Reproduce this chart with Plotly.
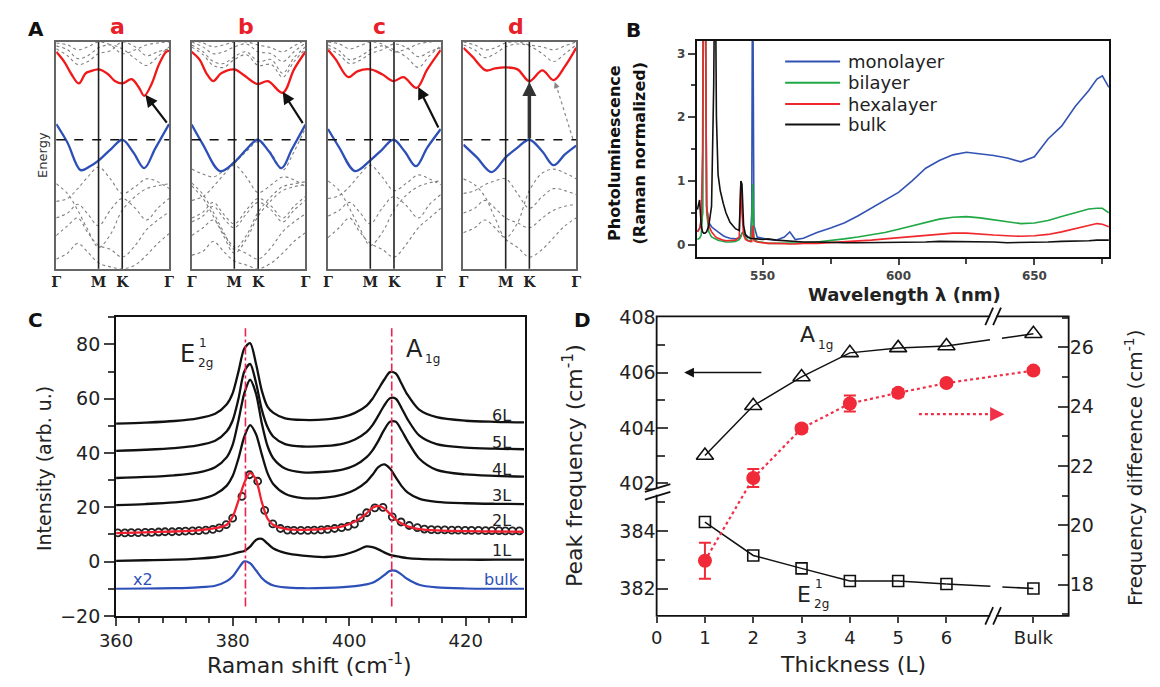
import plotly.graph_objects as go

W, H = 1160, 687
SANS = "DejaVu Sans"
SERIF = "DejaVu Serif"

# ================= DATA =================
# ---- Panel A : band structures (k path Γ-M-K-Γ, energy relative to VBM) ----
k_grid = [0, 0.1, 0.19, 0.28, 0.375, 0.48, 0.585, 0.7, 0.8, 0.9, 1.0]
k_ticks = [0, 0.375, 0.585, 1.0]
k_labels = ["Γ", "M", "K", "Γ"]
band_panels = ["a", "b", "c", "d"]

gray_a = [
    [0.96, 0.92, 0.83, 0.86, 0.94, 0.97, 0.93, 0.83, 0.76, 0.85, 0.95],
    [0.93, 0.86, 0.77, 0.80, 0.88, 0.91, 1.00, 0.95, 0.86, 0.90, 0.93],
    [0.99, 0.97, 0.92, 0.95, 1.00, 0.97, 0.88, 0.92, 0.97, 0.99, 1.00],
    [-0.45, -0.55, -0.72, -0.92, -1.10, -0.97, -0.72, -0.58, -0.50, -0.47, -0.45],
    [-0.63, -0.60, -0.50, -0.38, -0.28, -0.40, -0.55, -0.48, -0.40, -0.43, -0.50],
    [-0.80, -0.75, -0.66, -0.76, -0.88, -0.72, -0.60, -0.70, -0.82, -0.70, -0.60],
    [-0.98, -0.88, -0.80, -0.95, -1.08, -1.12, -1.20, -1.08, -0.92, -0.82, -0.74],
    [-1.22, -1.16, -1.06, -1.15, -1.26, -1.30, -1.32, -1.28, -1.18, -1.06, -0.96],
]
gray_b = [
    [0.97, 0.90, 0.80, 0.78, 0.85, 0.90, 0.80, 0.82, 0.68, 0.84, 0.95],
    [0.95, 0.87, 0.76, 0.74, 0.82, 0.87, 0.76, 0.77, 0.64, 0.80, 0.93],
    [1.00, 0.95, 0.88, 0.90, 0.95, 0.98, 0.90, 0.88, 0.80, 0.90, 0.99],
    [1.02, 0.99, 0.95, 0.97, 1.00, 1.00, 0.97, 0.94, 0.90, 0.96, 1.02],
    [-0.30, -0.35, -0.38, -0.32, -0.24, -0.12, -0.02, -0.14, -0.31, -0.12, 0.12],
    [-0.44, -0.56, -0.74, -0.94, -1.12, -0.98, -0.74, -0.58, -0.48, -0.45, -0.43],
    [-0.47, -0.60, -0.78, -0.98, -1.16, -1.02, -0.78, -0.62, -0.52, -0.48, -0.46],
    [-0.62, -0.58, -0.48, -0.36, -0.26, -0.38, -0.54, -0.46, -0.38, -0.41, -0.48],
    [-0.80, -0.74, -0.64, -0.76, -0.86, -0.72, -0.60, -0.68, -0.80, -0.68, -0.58],
    [-0.84, -0.78, -0.68, -0.80, -0.90, -0.76, -0.64, -0.72, -0.84, -0.72, -0.62],
    [-0.98, -0.90, -0.82, -0.96, -1.10, -1.16, -1.22, -1.10, -0.94, -0.84, -0.76],
    [-1.18, -1.14, -1.04, -1.14, -1.24, -1.28, -1.32, -1.26, -1.16, -1.04, -0.95],
]
gray_c = [
    [0.97, 0.91, 0.82, 0.85, 0.92, 0.96, 0.92, 0.84, 0.74, 0.86, 0.96],
    [0.94, 0.87, 0.78, 0.81, 0.88, 0.92, 0.98, 0.94, 0.85, 0.90, 0.94],
    [1.00, 0.98, 0.93, 0.96, 1.00, 0.98, 0.90, 0.93, 0.98, 1.00, 1.01],
    [-0.42, -0.52, -0.70, -0.90, -1.08, -0.95, -0.72, -0.56, -0.48, -0.44, -0.42],
    [-0.60, -0.57, -0.48, -0.36, -0.26, -0.38, -0.52, -0.44, -0.36, -0.40, -0.46],
    [-0.78, -0.72, -0.64, -0.74, -0.86, -0.70, -0.58, -0.68, -0.80, -0.66, -0.56],
    [-1.00, -0.90, -0.80, -0.94, -1.06, -1.12, -1.20, -1.06, -0.90, -0.80, -0.70],
]
gray_d = [
    [0.97, 0.92, 0.84, 0.88, 0.95, 0.98, 0.96, 0.88, 0.80, 0.88, 0.97],
    [1.00, 0.97, 0.92, 0.94, 0.99, 1.00, 0.97, 0.95, 0.92, 0.96, 1.00],
    [-0.40, -0.46, -0.58, -0.80, -1.00, -0.85, -0.52, -0.34, -0.30, -0.34, -0.40],
    [-0.55, -0.52, -0.46, -0.42, -0.40, -0.55, -0.70, -0.58, -0.50, -0.52, -0.56],
    [-0.75, -0.70, -0.62, -0.70, -0.80, -0.85, -0.90, -0.80, -0.72, -0.68, -0.66],
    [-0.95, -0.90, -0.82, -0.90, -1.02, -1.10, -1.20, -1.12, -1.00, -0.88, -0.80],
]

cb_a_k = [0, 0.07, 0.135, 0.2, 0.26, 0.3, 0.377, 0.46, 0.52, 0.587, 0.668, 0.73, 0.78, 0.845, 0.91, 0.974, 1.0]
cb_a_E = [0.90, 0.80, 0.67, 0.576, 0.68, 0.70, 0.72, 0.67, 0.60, 0.576, 0.62, 0.54, 0.45, 0.57, 0.77, 0.90, 0.91]
vb_a_k = [0, 0.1, 0.216, 0.3, 0.377, 0.49, 0.587, 0.684, 0.78, 0.877, 1.0]
vb_a_E = [0.16, -0.03, -0.31, -0.27, -0.21, -0.09, 0.0, -0.13, -0.29, -0.09, 0.16]

cb_b_k = [0, 0.07, 0.13, 0.19, 0.26, 0.375, 0.46, 0.58, 0.67, 0.8, 0.9, 1.0]
cb_b_E = [0.90, 0.82, 0.68, 0.60, 0.68, 0.72, 0.66, 0.57, 0.60, 0.48, 0.72, 0.90]
vb_b_k = [0, 0.1, 0.25, 0.375, 0.48, 0.58, 0.68, 0.79, 0.88, 1.0]
vb_b_E = [0.155, -0.05, -0.32, -0.23, -0.10, 0.0, -0.12, -0.29, -0.10, 0.155]

cb_c_k = [0, 0.07, 0.18, 0.26, 0.375, 0.48, 0.58, 0.67, 0.785, 0.88, 1.0]
cb_c_E = [0.92, 0.82, 0.64, 0.70, 0.72, 0.67, 0.60, 0.64, 0.53, 0.72, 0.92]
vb_c_k = [0, 0.1, 0.24, 0.375, 0.48, 0.58, 0.68, 0.78, 0.88, 1.0]
vb_c_E = [0.11, -0.08, -0.32, -0.21, -0.10, 0.0, -0.12, -0.27, -0.08, 0.11]

cb_d_k = [0, 0.08, 0.2, 0.28, 0.375, 0.48, 0.585, 0.7, 0.8, 0.9, 1.0]
cb_d_E = [0.94, 0.85, 0.71, 0.73, 0.74, 0.72, 0.60, 0.71, 0.61, 0.75, 0.94]
vb_d_k = [0, 0.12, 0.25, 0.375, 0.48, 0.585, 0.7, 0.8, 0.9, 1.0]
vb_d_E = [-0.05, -0.18, -0.33, -0.18, -0.08, 0.0, -0.12, -0.26, -0.15, -0.06]

# transitions: [k_from, E_from, k_to, E_to]
trans_a = [0.99, 0.16, 0.79, 0.46]
trans_b = [0.985, 0.155, 0.80, 0.49]
trans_c = [0.985, 0.11, 0.80, 0.54]
trans_d_direct = [0.585, 0.0, 0.585, 0.59]
trans_d_indirect = [0.97, 0.01, 0.81, 0.59]

# ---- Panel B : photoluminescence ----
wl = [526.0, 526.8, 527.4, 527.9, 528.3, 528.8, 529.4, 530.2, 531.2, 532.0, 532.5, 533.0,
      533.6, 534.4, 535.5, 536.5, 538.0, 540.0, 541.4, 542.0, 542.4, 543.0, 543.7, 544.5,
      545.5, 546.0, 546.3, 546.8, 548.0, 550.0, 552.0, 555.0, 558.0, 560.0, 562.0, 565.0,
      570.0, 575.0, 580.0, 585.0, 590.0, 595.0, 600.0, 605.0, 610.0, 615.0, 620.0, 625.0,
      630.0, 635.0, 640.0, 645.0, 650.0, 655.0, 660.0, 665.0, 670.0, 673.0, 675.0, 677.4]
pl_mono = [0.2, 0.25, 0.3, 0.5, 5, 5, 0.6, 0.35, 0.28, 0.25, 0.24, 0.22, 0.2, 0.17, 0.14,
           0.12, 0.1, 0.09, 0.1, 0.14, 0.18, 0.2, 0.16, 0.12, 0.1, 0.5, 5, 0.3, 0.12, 0.1,
           0.08, 0.07, 0.12, 0.2, 0.08, 0.1, 0.19, 0.26, 0.34, 0.45, 0.57, 0.7, 0.82, 1.0,
           1.2, 1.32, 1.41, 1.45, 1.43, 1.4, 1.36, 1.3, 1.38, 1.66, 1.86, 2.17, 2.42, 2.6,
           2.65, 2.47]
pl_bi = [0.08, 0.1, 0.15, 0.5, 5, 5, 0.5, 0.2, 0.12, 0.1, 0.09, 0.08, 0.07, 0.06, 0.05,
         0.04, 0.04, 0.05, 0.08, 0.12, 0.18, 0.2, 0.12, 0.07, 0.05, 0.3, 0.95, 0.1, 0.05,
         0.03, 0.02, 0.02, 0.02, 0.02, 0.02, 0.03, 0.04, 0.06, 0.09, 0.12, 0.15, 0.19,
         0.24, 0.29, 0.35, 0.4, 0.43, 0.44, 0.42, 0.39, 0.36, 0.33, 0.34, 0.38, 0.44, 0.5,
         0.56, 0.57, 0.57, 0.5]
pl_hexa = [0.2, 0.25, 0.4, 1.5, 5, 5, 0.6, 0.3, 0.2, 0.15, 0.13, 0.11, 0.1, 0.08, 0.07,
           0.06, 0.06, 0.07, 0.12, 1.0, 0.5, 0.15, 0.08, 0.06, 0.05, 0.05, 0.3, 0.06, 0.04,
           0.03, 0.02, 0.02, 0.01, 0.01, 0.01, 0.02, 0.02, 0.03, 0.04, 0.05, 0.07, 0.09,
           0.11, 0.13, 0.15, 0.17, 0.18, 0.18, 0.16, 0.15, 0.14, 0.13, 0.14, 0.16, 0.2,
           0.25, 0.3, 0.33, 0.32, 0.28]
pl_bulk = [0.55, 0.7, 0.3, 0.2, 0.18, 0.18, 0.2, 0.3, 0.6, 2.5, 5, 2.0, 1.1, 0.85, 0.65,
           0.5, 0.35, 0.25, 0.22, 1.0, 0.95, 0.3, 0.15, 0.12, 0.1, 0.1, 0.1, 0.1, 0.09,
           0.08, 0.09, 0.07, 0.06, 0.05, 0.05, 0.04, 0.04, 0.03, 0.03, 0.03, 0.03, 0.03,
           0.03, 0.03, 0.04, 0.05, 0.05, 0.05, 0.04, 0.04, 0.03, 0.03, 0.04, 0.04, 0.05,
           0.05, 0.06, 0.07, 0.07, 0.07]
pl_names = ["monolayer", "bilayer", "hexalayer", "bulk"]
pl_colors = ["#3353b3", "#1fa845", "#f0282d", "#111111"]

# ---- Panel C : Raman spectra ----
ram_x = [360, 365, 370, 374, 377, 379, 380, 381, 382, 383, 384, 385, 386, 387, 389, 392,
         396, 399, 401, 403, 404, 405, 406, 407, 408, 409, 410, 412, 415, 420, 425, 430]
ram_6L = [50.8, 51.2, 51.8, 52.8, 54.5, 58, 62, 70, 78.5, 80.5, 73, 63, 57, 54.8, 52.8, 52.2,
          52.4, 53.3, 54.8, 57.5, 60, 63.5, 67, 69.8, 69.3, 65.5, 61.5, 56, 53.2, 51.9, 51.5, 51.3]
ram_5L = [40.8, 41.2, 41.8, 42.8, 44.5, 48, 52, 60, 70, 72.8, 66, 56, 49.5, 46, 43.3, 42.4,
          42.6, 43.5, 45, 47.8, 50.3, 53.8, 57.5, 60.2, 60, 56.5, 52.5, 46.5, 43.3, 42, 41.6, 41.4]
ram_4L = [30.8, 31.2, 31.8, 32.8, 34.8, 38.5, 43, 52, 62, 67, 62, 51, 42.5, 38, 34.3, 32.9,
          33.1, 34, 35.5, 38.5, 41, 44.5, 48.5, 51.5, 51.5, 48.3, 44.5, 38, 33.8, 32.1, 31.6, 31.3]
ram_3L = [20.8, 21.2, 21.8, 22.8, 24.8, 28, 31.5, 38, 46, 50.3, 47, 39.5, 32.5, 28.5, 25, 23.4,
          23.6, 24.8, 26.5, 29.5, 32, 34.8, 35.8, 34.3, 31, 27.8, 25.5, 23.2, 22, 21.5, 21.3, 21.2]
ram_2L_fit = [10.5, 10.8, 11.1, 11.5, 12.3, 13.6, 16.5, 22.5, 29, 32.7, 30.2, 22, 15.8, 13.5, 12.1,
              11.7, 12.1, 13.1, 14.8, 17.8, 19.8, 20.5, 19.6, 17.6, 15.5, 14, 13, 12, 11.5, 11.2, 11.1, 11.0]
ram_1L = [0.3, 0.5, 0.7, 1.1, 1.6, 2.3, 2.8, 3.4, 3.9, 5.5, 8.0, 8.4, 6.6, 4.8, 3.2, 2.2,
          1.7, 2.5, 3.8, 5.6, 5.3, 4.5, 3.4, 2.5, 2.0, 1.6, 1.3, 1.0, 0.8, 0.7, 0.7, 0.7]
ram_bulk = [-10, -9.9, -9.8, -9.5, -8.9, -7.2, -5.5, -2.5, 0.1, -0.6, -3.2, -6.0, -7.8, -8.8, -9.5, -9.8,
            -9.7, -9.4, -9.0, -8.4, -7.8, -6.6, -5.0, -3.4, -3.4, -4.8, -6.4, -8.5, -9.5, -9.9, -10, -10]
circ_x = [360.3, 361.5, 362.6, 363.8, 365.0, 366.1, 367.3, 368.4, 369.6, 370.8, 371.9, 373.1,
          374.2, 375.4, 376.6, 377.7, 378.9, 380.0, 381.6, 382.9, 384.3, 385.5, 386.9, 388.2,
          389.4, 390.5, 391.7, 392.9, 394.0, 395.2, 396.3, 397.5, 398.7, 399.8, 400.9, 401.9,
          403.0, 404.4, 405.8, 407.4, 408.9, 410.3, 411.7, 412.9, 414.1, 415.2, 416.4, 417.6,
          418.7, 419.9, 421.0, 422.2, 423.4, 424.5, 425.7, 426.8, 428.0, 429.2]
circ_y = [10.6, 10.6, 10.7, 10.7, 10.8, 10.8, 10.9, 11.0, 11.0, 11.1, 11.2, 11.3,
          11.4, 11.6, 11.9, 12.4, 13.6, 16.0, 24.0, 32.0, 29.6, 18.9, 13.9, 12.2,
          11.6, 11.5, 11.5, 11.5, 11.6, 11.7, 11.9, 12.2, 12.5, 13.0, 13.8, 16.1,
          18.0, 19.8, 20.0, 16.5, 14.6, 13.3, 12.5, 12.0, 11.8, 11.7, 11.7, 11.6,
          11.6, 11.5, 11.5, 11.5, 11.4, 11.4, 11.4, 11.3, 11.3, 11.3]
ram_E2g_pos = 382.2
ram_A1g_pos = 407.3

# ---- Panel D : peak frequency vs thickness ----
thick_x = [1, 2, 3, 4, 5, 6, 7.8]
thick_labels = ["0", "1", "2", "3", "4", "5", "6", "Bulk"]
thick_tickvals = [0, 1, 2, 3, 4, 5, 6, 7.8]
freq_A1g = [403.0, 404.8, 405.84, 406.71, 406.89, 406.96, 407.4]
freq_E2g = [384.31, 383.15, 382.7, 382.26, 382.26, 382.16, 382.0]
freq_diff = [18.81, 21.6, 23.27, 24.11, 24.47, 24.8, 25.22]
freq_diff_err = [0.61, 0.3, 0.12, 0.27, 0.12, 0.08, 0.1]

# ================= HELPERS =================
def dom_x(a, b):
    return [a / W, b / W]

def dom_y(top, bot):
    return [1 - bot / H, 1 - top / H]

def fx(p):
    return p / W

def fy(p):
    return 1 - p / H

annotations = []
shapes = []

def txt(x, y, s, size, color="#111", family=SANS, angle=0, xanchor="center", yanchor="middle"):
    annotations.append(dict(x=fx(x), y=fy(y), xref="paper", yref="paper", text=s,
                            showarrow=False, textangle=angle, xanchor=xanchor, yanchor=yanchor,
                            font=dict(family=family, size=size, color=color)))

fig = go.Figure()
layout = dict(width=W, height=H, margin=dict(l=0, r=0, t=0, b=0),
              paper_bgcolor="white", plot_bgcolor="rgba(0,0,0,0)", showlegend=False,
              font=dict(family=SANS, color="#111"))

# ================= PANEL A =================
A_x = [(40, 155), (178, 294), (317, 432), (455, 570)]
A_top, A_bot = 33, 267
gray_sets = [gray_a, gray_b, gray_c, gray_d]
cb_sets = [(cb_a_k, cb_a_E), (cb_b_k, cb_b_E), (cb_c_k, cb_c_E), (cb_d_k, cb_d_E)]
vb_sets = [(vb_a_k, vb_a_E), (vb_b_k, vb_b_E), (vb_c_k, vb_c_E), (vb_d_k, vb_d_E)]
letter_x = [102, 233, 369, 509]

for i in range(4):
    n = i + 1
    xa = "x" if n == 1 else f"x{n}"
    ya = "y" if n == 1 else f"y{n}"
    xkey = "xaxis" if n == 1 else f"xaxis{n}"
    ykey = "yaxis" if n == 1 else f"yaxis{n}"
    layout[xkey] = dict(domain=dom_x(*A_x[i]), range=[0, 1], anchor=ya, showgrid=False,
                        zeroline=False, showline=True, mirror=True, linecolor="#666",
                        linewidth=1.5, tickvals=k_ticks, ticktext=k_labels, ticks="",
                        ticklabelstandoff=0,
                        tickfont=dict(family=SERIF, size=14, color="#222", weight="bold"))
    layout[ykey] = dict(domain=dom_y(A_top, A_bot), range=[-1.32, 1.0], anchor=xa,
                        showgrid=False, zeroline=False, showline=True, mirror=True,
                        linecolor="#666", linewidth=1.5, showticklabels=False, ticks="")
    for band in gray_sets[i]:
        fig.add_trace(go.Scatter(x=k_grid, y=band, xaxis=xa, yaxis=ya, mode="lines",
                                 line=dict(color="#808080", width=1.1, dash="dot", shape="spline"),
                                 hoverinfo="skip"))
    fig.add_trace(go.Scatter(x=cb_sets[i][0], y=cb_sets[i][1], xaxis=xa, yaxis=ya, mode="lines",
                             line=dict(color="#f01818", width=2.3, shape="spline", smoothing=1.0)))
    fig.add_trace(go.Scatter(x=vb_sets[i][0], y=vb_sets[i][1], xaxis=xa, yaxis=ya, mode="lines",
                             line=dict(color="#2d4fb8", width=2.3, shape="spline", smoothing=1.0)))
    for kv in k_ticks[1:3]:
        shapes.append(dict(type="line", xref=xa, yref=f"{ya} domain", x0=kv, x1=kv, y0=0, y1=1,
                           line=dict(color="#222", width=1.6)))
    shapes.append(dict(type="line", xref=f"{xa} domain", yref=ya, x0=0, x1=1, y0=0, y1=0,
                       line=dict(color="#111", width=1.3, dash="dash")))
    txt(letter_x[i], 17, f"<b>{band_panels[i]}</b>", 22, color="#e8202a")

for n, tr in zip([1, 2, 3], [trans_a, trans_b, trans_c]):
    xa = "x" if n == 1 else f"x{n}"
    ya = "y" if n == 1 else f"y{n}"
    annotations.append(dict(x=tr[2], y=tr[3], ax=tr[0], ay=tr[1], xref=xa, yref=ya,
                            axref=xa, ayref=ya, text="", showarrow=True, arrowhead=2,
                            arrowsize=1.1, arrowwidth=2.2, arrowcolor="#111"))
annotations.append(dict(x=trans_d_direct[2], y=trans_d_direct[3], ax=trans_d_direct[0],
                        ay=trans_d_direct[1], xref="x4", yref="y4", axref="x4", ayref="y4",
                        text="", showarrow=True, arrowhead=2, arrowsize=0.8, arrowwidth=3.5,
                        arrowcolor="#333"))
shapes.append(dict(type="line", xref="x4", yref="y4", x0=trans_d_indirect[0], y0=trans_d_indirect[1],
                   x1=trans_d_indirect[2] + 0.02, y1=trans_d_indirect[3] - 0.06,
                   line=dict(color="#888", width=1.2, dash="dot")))
annotations.append(dict(x=trans_d_indirect[2], y=trans_d_indirect[3],
                        ax=trans_d_indirect[2] + 0.025, ay=trans_d_indirect[3] - 0.08,
                        xref="x4", yref="y4", axref="x4", ayref="y4", text="", showarrow=True,
                        arrowhead=2, arrowsize=1, arrowwidth=1.2, arrowcolor="#888"))
txt(19, 20, "<b>A</b>", 20)
txt(26, 150, "Energy", 13, color="#333", angle=-90)

# ================= PANEL B =================
B_x0, B_x1, B_top, B_bot = 693, 1113, 32, 255
layout["xaxis5"] = dict(domain=dom_x(B_x0, B_x1), range=[525.8, 677.4], anchor="y5",
                        showgrid=False, zeroline=False, showline=True, mirror=True,
                        linecolor="#111", linewidth=2, ticks="outside", ticklen=6, tickwidth=1.5,
                        tickvals=[550, 600, 650], ticktext=["550", "600", "650"],
                        tickfont=dict(family=SANS, size=12, color="#444", weight="bold"),
                        minor=dict(tickvals=[575, 625, 675], ticks="outside", ticklen=5, tickwidth=1.5))
layout["yaxis5"] = dict(domain=dom_y(B_top, B_bot), range=[-0.198, 3.198], anchor="x5",
                        showgrid=False, zeroline=False, showline=True, mirror=True,
                        linecolor="#111", linewidth=2, ticks="outside", ticklen=7, tickwidth=1.5,
                        tickvals=[0, 1, 2, 3], ticktext=["0", "1", "2", "3"],
                        tickfont=dict(family=SANS, size=12, color="#444", weight="bold"),
                        minor=dict(dtick=0.5, tick0=0, ticks="outside", ticklen=4, tickwidth=1.5))
for ys, c in zip([pl_mono, pl_bi, pl_hexa, pl_bulk], pl_colors):
    fig.add_trace(go.Scatter(x=wl, y=ys, xaxis="x5", yaxis="y5", mode="lines",
                             line=dict(color=c, width=1.6)))
leg_y = [53, 75, 97, 118]
for name, c, yy in zip(pl_names, pl_colors, leg_y):
    shapes.append(dict(type="line", xref="paper", yref="paper", x0=fx(783), x1=fx(839),
                       y0=fy(yy), y1=fy(yy), line=dict(color=c, width=2)))
    txt(845, yy, name, 18, color="#222", xanchor="left")
txt(628, 21, "<b>B</b>", 20)
txt(609, 147, "<b>Photoluminescence</b>", 16, angle=-90)
txt(635, 147, "<b>(Raman normalized)</b>", 16, angle=-90)
txt(905, 293, "<b>Wavelength λ (nm)</b>", 18, color="#222")

# ================= PANEL C =================
C_x0, C_x1, C_top, C_bot = 101, 518, 317, 625
layout["xaxis6"] = dict(domain=dom_x(C_x0, C_x1), range=[360, 430.2], anchor="y6",
                        showgrid=False, zeroline=False, showline=True, mirror=True,
                        linecolor="#111", linewidth=2, ticks="outside", ticklen=8, tickwidth=2,
                        dtick=20, tick0=360, tickfont=dict(family=SANS, size=18, color="#222"),
                        minor=dict(dtick=4, tick0=360, ticks="outside", ticklen=5, tickwidth=2))
layout["yaxis6"] = dict(domain=dom_y(C_top, C_bot), range=[-20, 90], anchor="x6",
                        showgrid=False, zeroline=False, showline=True, mirror=True,
                        linecolor="#111", linewidth=2, ticks="outside", ticklen=10, tickwidth=2,
                        dtick=20, tick0=-20, tickfont=dict(family=SANS, size=19, color="#222"),
                        minor=dict(dtick=10, tick0=-20, ticks="outside", ticklen=6, tickwidth=2))
for xpos in [ram_E2g_pos, ram_A1g_pos]:
    shapes.append(dict(type="line", xref="x6", yref="y6", x0=xpos, x1=xpos, y0=-16.5, y1=86,
                       line=dict(color="#ee2050", width=1.6, dash="dashdot")))
for ys in [ram_6L, ram_5L, ram_4L, ram_3L, ram_1L]:
    fig.add_trace(go.Scatter(x=ram_x, y=ys, xaxis="x6", yaxis="y6", mode="lines",
                             line=dict(color="#111", width=2.3, shape="spline", smoothing=0.8)))
fig.add_trace(go.Scatter(x=ram_x, y=ram_bulk, xaxis="x6", yaxis="y6", mode="lines",
                         line=dict(color="#2d4fb8", width=2.2, shape="spline", smoothing=0.8)))
fig.add_trace(go.Scatter(x=circ_x, y=circ_y, xaxis="x6", yaxis="y6", mode="markers",
                         marker=dict(symbol="circle-open", size=7, color="#222",
                                     line=dict(width=1.8, color="#222"))))
fig.add_trace(go.Scatter(x=ram_x, y=ram_2L_fit, xaxis="x6", yaxis="y6", mode="lines",
                         line=dict(color="#f02030", width=2.3, shape="spline", smoothing=0.8)))
for lab, yy in zip(["6L", "5L", "4L", "3L", "2L", "1L"], [418, 446, 474, 501, 527, 558]):
    txt(494, yy, lab, 16, color="#222")
txt(494, 587, "bulk", 16, color="#2d4fb8")
txt(128, 587, "x2", 16, color="#2d4fb8")
txt(174, 355, "E", 24, color="#222")
txt(183, 343, "1", 12, color="#222", xanchor="left")
txt(182, 364, "2g", 12, color="#222", xanchor="left")
txt(405, 350, "A", 24, color="#222")
txt(414, 360, "1g", 12, color="#222", xanchor="left")
txt(19, 320, "<b>C</b>", 20)
txt(27, 473, "Intensity (arb. u.)", 19, color="#222", angle=-90)
txt(298, 675, "Raman shift (cm<sup>-1</sup>)", 22, color="#222")

# ================= PANEL D =================
D_x0, D_x1, D_top, D_bot, D_brk = 652, 1072, 316, 625, 497
layout["xaxis7"] = dict(domain=dom_x(D_x0, D_x1), range=[0, 8.53], anchor="y8",
                        showgrid=False, zeroline=False, showline=False, ticks="outside",
                        ticklen=6, tickwidth=1.5, tickvals=thick_tickvals, ticktext=thick_labels,
                        tickfont=dict(family=SANS, size=18, color="#222"))
layout["yaxis7"] = dict(domain=dom_y(D_top, D_brk), range=[401.69, 408.03], anchor="x7",
                        showgrid=False, zeroline=False, showline=False, ticks="inside",
                        ticklen=11, tickwidth=1.5, dtick=2, tick0=402,
                        tickfont=dict(family=SANS, size=19, color="#222"),
                        minor=dict(dtick=1, tick0=402, ticks="inside", ticklen=8, tickwidth=1.5))
layout["yaxis8"] = dict(domain=dom_y(D_brk, D_bot), range=[381.05, 385.36], anchor="x7",
                        showgrid=False, zeroline=False, showline=False, ticks="inside",
                        ticklen=11, tickwidth=1.5, dtick=2, tick0=382,
                        tickfont=dict(family=SANS, size=19, color="#222"),
                        minor=dict(dtick=1, tick0=382, ticks="inside", ticklen=8, tickwidth=1.5))
layout["yaxis9"] = dict(domain=dom_y(D_top, D_bot), range=[16.95, 27.05], anchor="x7",
                        side="right", showgrid=False, zeroline=False, showline=False,
                        ticks="inside", ticklen=11, tickwidth=1.5, dtick=2, tick0=18,
                        tickfont=dict(family=SANS, size=19, color="#222"),
                        minor=dict(dtick=1, tick0=18, ticks="inside", ticklen=7, tickwidth=1.5))
shapes.append(dict(type="rect", xref="paper", yref="paper", x0=fx(D_x0), x1=fx(D_x1),
                   y0=fy(D_bot), y1=fy(D_top), line=dict(color="#111", width=1.8)))

# lines through the points
fig.add_trace(go.Scatter(x=thick_x[:6], y=freq_A1g[:6], xaxis="x7", yaxis="y7", mode="lines",
                         line=dict(color="#111", width=1.5)))
fig.add_trace(go.Scatter(x=thick_x[5:], y=freq_A1g[5:], xaxis="x7", yaxis="y7", mode="lines",
                         line=dict(color="#111", width=1.5, dash="44px,12px")))
fig.add_trace(go.Scatter(x=thick_x[:6], y=freq_E2g[:6], xaxis="x7", yaxis="y8", mode="lines",
                         line=dict(color="#111", width=1.5)))
fig.add_trace(go.Scatter(x=thick_x[5:], y=freq_E2g[5:], xaxis="x7", yaxis="y8", mode="lines",
                         line=dict(color="#111", width=1.5, dash="44px,12px")))
fig.add_trace(go.Scatter(x=thick_x, y=freq_diff, xaxis="x7", yaxis="y9", mode="lines",
                         line=dict(color="#f03048", width=2.2, dash="dot")))
fig.add_trace(go.Scatter(x=thick_x, y=freq_A1g, xaxis="x7", yaxis="y7", mode="markers",
                         marker=dict(symbol="triangle-up-open", size=15, color="#111",
                                     line=dict(width=1.6, color="#111")), cliponaxis=False))
fig.add_trace(go.Scatter(x=thick_x, y=freq_E2g, xaxis="x7", yaxis="y8", mode="markers",
                         marker=dict(symbol="square-open", size=11, color="#111",
                                     line=dict(width=1.6, color="#111")), cliponaxis=False))
fig.add_trace(go.Scatter(x=thick_x, y=freq_diff, xaxis="x7", yaxis="y9", mode="markers",
                         marker=dict(symbol="circle", size=14, color="#f02a38"),
                         error_y=dict(type="data", array=freq_diff_err, color="#f02a38",
                                      thickness=2, width=6)))

# arrows
annotations.append(dict(x=0.57, y=406, ax=2.2, ay=406, xref="x7", yref="y7", axref="x7",
                        ayref="y7", text="", showarrow=True, arrowhead=2, arrowsize=1.3,
                        arrowwidth=1.5, arrowcolor="#111"))
shapes.append(dict(type="line", xref="x7", yref="y9", x0=5.43, x1=6.95, y0=23.75, y1=23.75,
                   line=dict(color="#f03048", width=2.2, dash="dot")))
annotations.append(dict(x=7.2, y=23.75, ax=6.9, ay=23.75, xref="x7", yref="y9", axref="x7",
                        ayref="y9", text="", showarrow=True, arrowhead=2, arrowsize=1.3,
                        arrowwidth=2.2, arrowcolor="#f03048"))

# axis break marks
for (cx, cy) in [(995, D_top), (995, D_bot)]:
    shapes.append(dict(type="rect", xref="paper", yref="paper", x0=fx(cx - 3), x1=fx(cx + 3),
                       y0=fy(cy + 3), y1=fy(cy - 3), line=dict(width=0), fillcolor="white"))
    for dx in [-4, 4]:
        shapes.append(dict(type="line", xref="paper", yref="paper",
                           x0=fx(cx + dx - 4), y0=fy(cy + 9), x1=fx(cx + dx + 4), y1=fy(cy - 9),
                           line=dict(color="#111", width=1.8)))
shapes.append(dict(type="rect", xref="paper", yref="paper", x0=fx(D_x0 - 3), x1=fx(D_x0 + 3),
                   y0=fy(D_brk + 3), y1=fy(D_brk - 3), line=dict(width=0), fillcolor="white"))
for dy in [-4, 4]:
    shapes.append(dict(type="line", xref="paper", yref="paper",
                       x0=fx(D_x0 - 12), y0=fy(D_brk + dy + 4), x1=fx(D_x0 + 14), y1=fy(D_brk + dy - 4),
                       line=dict(color="#111", width=1.8)))

txt(806, 335, "A", 22, color="#222")
txt(814, 346, "1g", 12, color="#222", xanchor="left")
txt(802, 603, "E", 22, color="#222")
txt(811, 592, "1", 12, color="#222", xanchor="left")
txt(810, 613, "2g", 12, color="#222", xanchor="left")
txt(576, 320, "<b>D</b>", 20)
txt(566, 470, "Peak frequency (cm<sup>-1</sup>)", 22, color="#222", angle=-90)
txt(1138, 472, "Frequency difference (cm<sup>-1</sup>)", 20, color="#222", angle=-90)
txt(852, 675, "Thickness (L)", 22, color="#222")

layout["shapes"] = shapes
layout["annotations"] = annotations
fig.update_layout(**layout)
fig.write_html("out.html")
